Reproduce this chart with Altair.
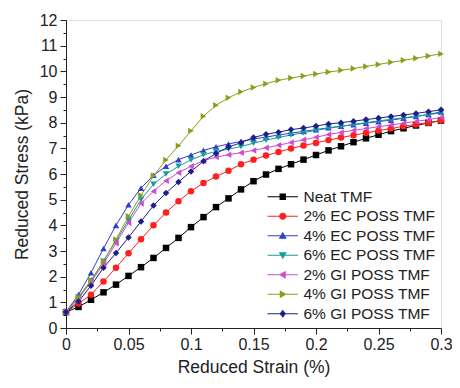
import altair as alt
import pandas as pd

STRAIN = [round(i * 0.01, 2) for i in range(31)]

SERIES = ["Neat TMF", "2% EC POSS TMF", "4% EC POSS TMF", "6% EC POSS TMF",
          "2% GI POSS TMF", "4% GI POSS TMF", "6% GI POSS TMF"]

NEAT = [0.62, 0.82, 1.1, 1.39, 1.69, 2.03, 2.37, 2.73, 3.12, 3.51, 3.93, 4.32, 4.71, 5.05, 5.4,
        5.72, 5.98, 6.2, 6.38, 6.56, 6.74, 6.92, 7.08, 7.24, 7.39, 7.53, 7.67, 7.78, 7.89, 7.99, 8.08]
EC2 = [0.62, 0.95, 1.3, 1.81, 2.35, 2.91, 3.46, 4.0, 4.5, 4.94, 5.33, 5.65, 5.9, 6.13, 6.38,
       6.56, 6.72, 6.86, 6.99, 7.11, 7.21, 7.32, 7.42, 7.51, 7.6, 7.69, 7.77, 7.86, 7.93, 8.0, 8.08]
EC4 = [0.62, 1.3, 2.15, 3.1, 4.0, 4.8, 5.45, 5.95, 6.3, 6.56, 6.74, 6.92, 7.06, 7.17, 7.27,
       7.36, 7.44, 7.52, 7.59, 7.66, 7.73, 7.8, 7.86, 7.92, 7.98, 8.04, 8.1, 8.17, 8.24, 8.32, 8.42]
EC6 = [0.62, 1.2, 1.85, 2.6, 3.4, 4.2, 5.0, 5.6, 6.0, 6.3, 6.55, 6.75, 6.88, 6.97, 7.07,
       7.2, 7.32, 7.42, 7.52, 7.61, 7.7, 7.78, 7.86, 7.93, 8.0, 8.07, 8.13, 8.19, 8.25, 8.31, 8.38]
GI2 = [0.62, 1.15, 1.8, 2.5, 3.3, 4.1, 4.85, 5.33, 5.74, 6.05, 6.3, 6.52, 6.66, 6.75, 6.83,
       6.92, 7.02, 7.12, 7.23, 7.33, 7.43, 7.54, 7.62, 7.7, 7.77, 7.84, 7.91, 7.98, 8.05, 8.12, 8.2]
GI4 = [0.62, 1.2, 1.85, 2.6, 3.45, 4.35, 5.17, 5.93, 6.55, 7.1, 7.68, 8.25, 8.68, 8.97, 9.2,
       9.37, 9.52, 9.65, 9.74, 9.82, 9.9, 9.97, 10.04, 10.11, 10.19, 10.27, 10.35, 10.43, 10.51, 10.6, 10.68]
GI6 = [0.62, 1.03, 1.65, 2.35, 2.92, 3.53, 4.15, 4.77, 5.26, 5.69, 6.1, 6.5, 6.8, 7.05, 7.22,
       7.42, 7.55, 7.63, 7.73, 7.79, 7.87, 7.95, 8.0, 8.06, 8.12, 8.18, 8.24, 8.3, 8.36, 8.43, 8.5]

VALUES = [NEAT, EC2, EC4, EC6, GI2, GI4, GI6]
COLORS = ["#000000", "#ff1f1f", "#2f3fcc", "#169c9c", "#d04ccf", "#8e9c1c", "#1e1e88"]
SHAPES = ["square", "circle", "triangle-up", "triangle-down", "triangle-left",
          "triangle-right", "diamond"]

LINE = "M-3.8,-0.12H3.8V0.12H-3.8Z "
LEGEND_PATHS = [
    LINE + "M-0.8,-0.8H0.8V0.8H-0.8Z",
    LINE + "M-0.9,0A0.9,0.9,0,1,1,0.9,0A0.9,0.9,0,1,1,-0.9,0Z",
    LINE + "M0,-1L1,0.75H-1Z",
    LINE + "M0,1L-1,-0.75H1Z",
    LINE + "M-1,0L0.75,-1V1Z",
    LINE + "M1,0L-0.75,1V-1Z",
    LINE + "M0,-1L0.8,0L0,1L-0.8,0Z",
]

rows = []
for name, vals in zip(SERIES, VALUES):
    for s, v in zip(STRAIN, vals):
        rows.append({"strain": s, "stress": v, "series": name})
df = pd.DataFrame(rows)

FONT = "Liberation Sans"
XTICKS = [round(i * 0.025, 3) for i in range(13)]
YTICKS = [i * 0.5 for i in range(25)]

x_enc = alt.X(
    "strain:Q",
    scale=alt.Scale(domain=[0, 0.3], nice=False, zero=False),
    axis=alt.Axis(
        title="Reduced Strain (%)", values=XTICKS, format="~g",
        labelExpr="abs(datum.value*20 - round(datum.value*20)) < 0.001 ? datum.label : ''",
        tickSize={"condition": {"test": "abs(datum.value*20 - round(datum.value*20)) < 0.001", "value": 6}, "value": 3},
        grid=False, domainColor="#222", tickColor="#222", labelColor="#222",
        titleColor="#222", labelFont=FONT, titleFont=FONT, labelFontSize=16,
        titleFontSize=17.5, titleFontWeight="normal", labelPadding=2, titlePadding=6,
        labelFlush=False,
    ),
)
y_enc = alt.Y(
    "stress:Q",
    scale=alt.Scale(domain=[0, 12], nice=False),
    axis=alt.Axis(
        title="Reduced Stress (kPa)", values=YTICKS, format="~g",
        labelExpr="abs(datum.value - round(datum.value)) < 0.001 ? datum.label : ''",
        tickSize={"condition": {"test": "abs(datum.value - round(datum.value)) < 0.001", "value": 6}, "value": 3},
        grid=False, domainColor="#222", tickColor="#222", labelColor="#222",
        titleColor="#222", labelFont=FONT, titleFont=FONT, labelFontSize=16,
        titleFontSize=17.5, titleFontWeight="normal", labelPadding=3, titlePadding=8,
        labelFlush=False,
    ),
)

color_scale = alt.Scale(domain=SERIES, range=COLORS)

lines = alt.Chart(df).mark_line(strokeWidth=1).encode(
    x=x_enc, y=y_enc,
    color=alt.Color("series:N", scale=color_scale, legend=None),
    order=alt.Order("strain:Q"),
)

points = alt.Chart(df).mark_point(filled=True, size=42, opacity=1).encode(
    x=x_enc, y=y_enc,
    color=alt.Color("series:N", scale=color_scale, legend=None),
    shape=alt.Shape("series:N", scale=alt.Scale(domain=SERIES, range=SHAPES), legend=None),
)

legend_cfg = dict(
    title=None, orient="bottom-right", offset=5, padding=0,
    symbolSize=64, labelOffset=13, labelFontSize=15.5, labelFont=FONT,
    labelColor="#222", rowPadding=2.5, symbolStrokeWidth=0,
)

legend_layer = alt.Chart(df).transform_filter("false").mark_point(
    filled=True, size=64, opacity=1
).encode(
    x=x_enc, y=y_enc,
    color=alt.Color("series:N", scale=color_scale, legend=alt.Legend(**legend_cfg)),
    shape=alt.Shape("series:N", scale=alt.Scale(domain=SERIES, range=LEGEND_PATHS),
                    legend=alt.Legend(**legend_cfg)),
)

chart = alt.layer(lines, points, legend_layer).resolve_scale(
    color="independent", shape="independent"
).properties(
    width=375, height=308,
    autosize=alt.AutoSizeParams(type="none"),
    padding={"left": 58, "top": 12, "right": 11, "bottom": 52},
).configure_view(
    stroke="#222", strokeWidth=1
).configure(background="white")

chart.save("out.html", embed_options={"renderer": "svg", "actions": False})
